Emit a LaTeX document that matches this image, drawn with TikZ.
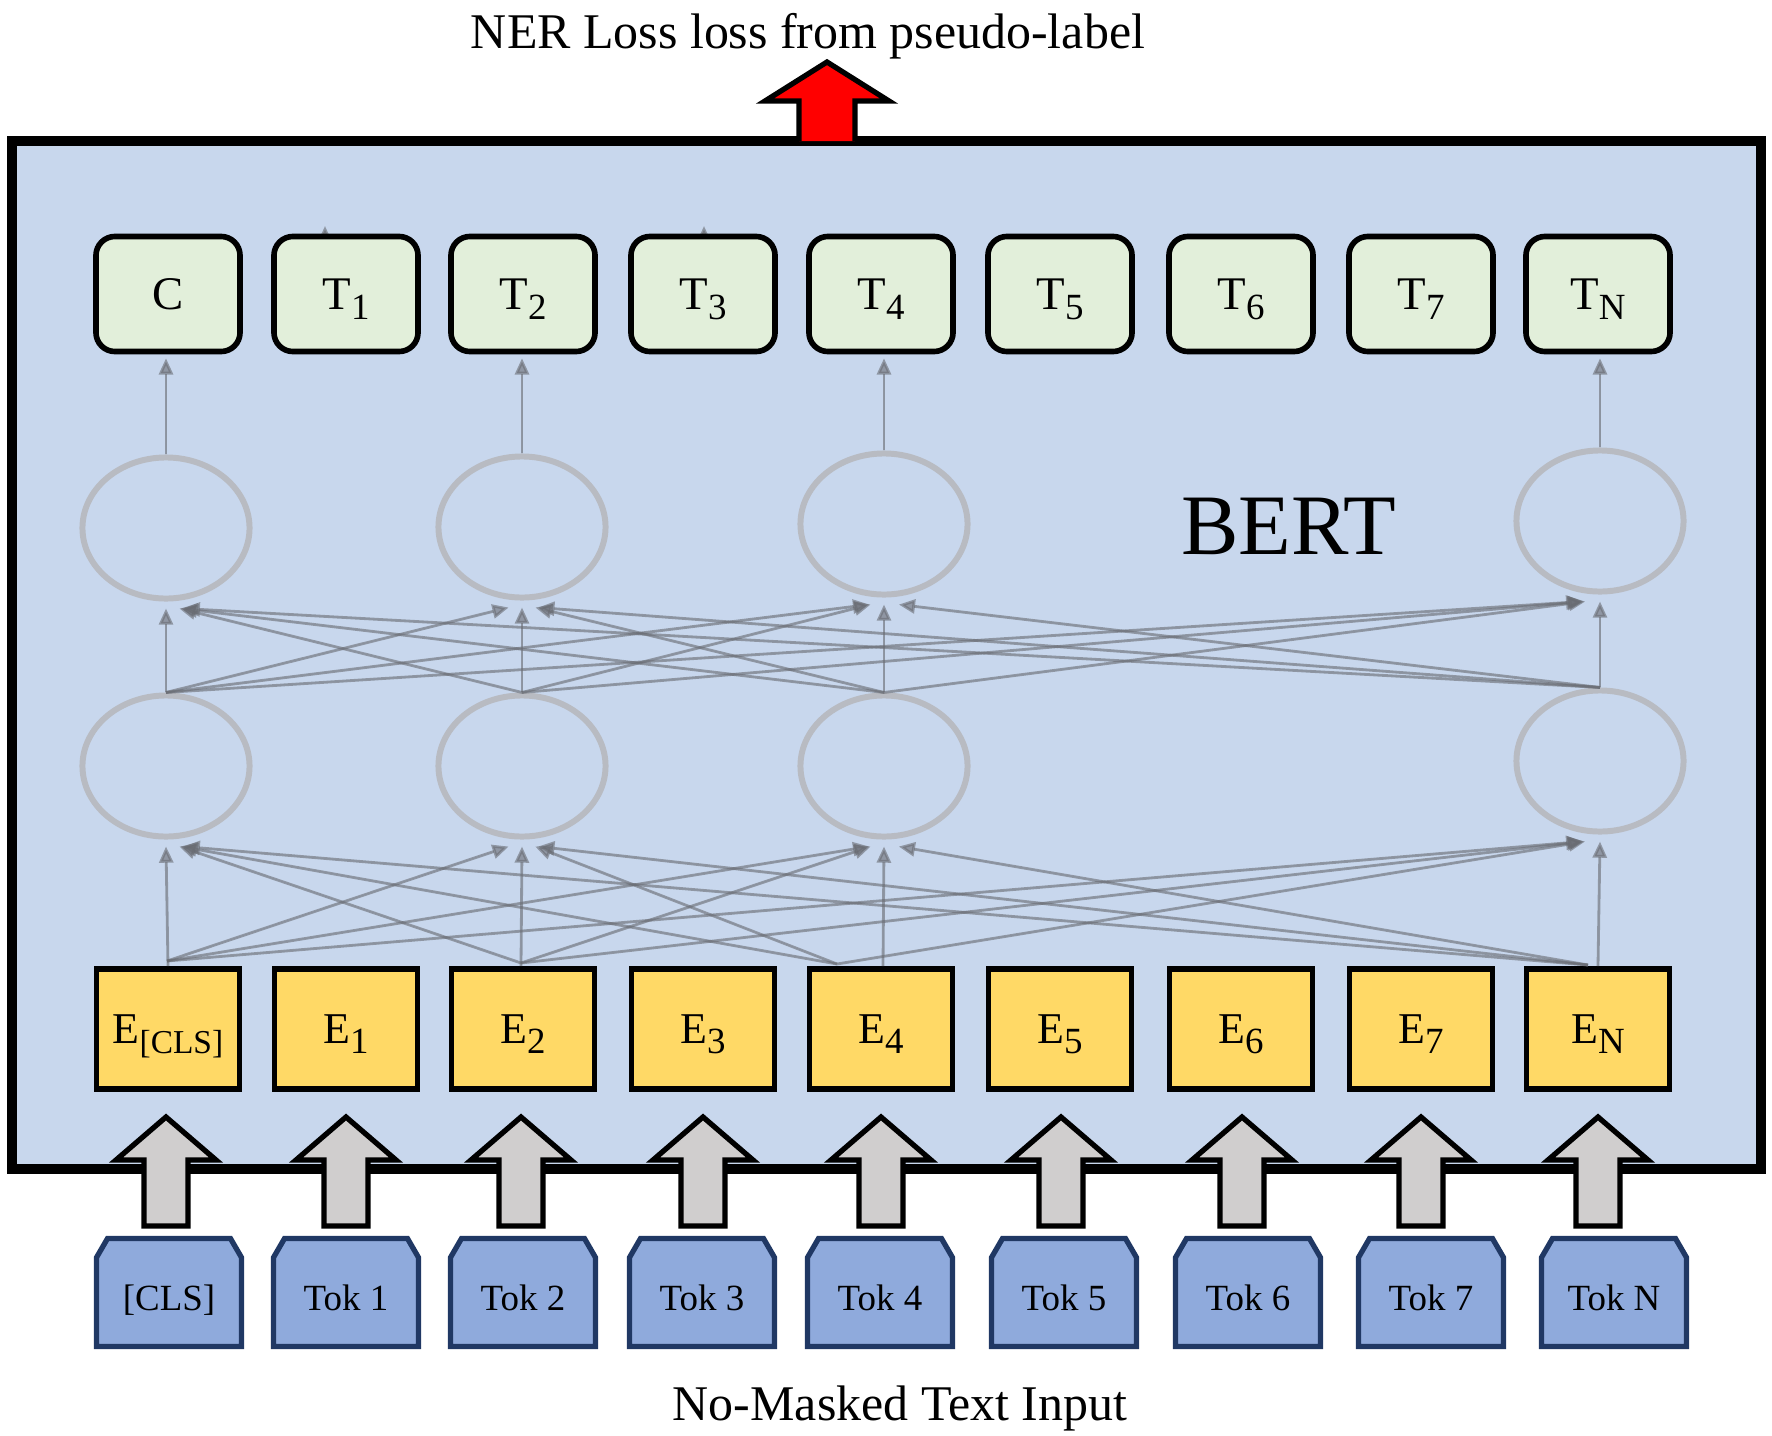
\documentclass[tikz,border=0pt]{standalone}
\usepackage{fontspec}
\setmainfont{Liberation Serif}
\usetikzlibrary{arrows.meta,shapes.geometric,calc}

\definecolor{bertbg}{RGB}{200,215,237}
\definecolor{outfill}{RGB}{226,239,218}
\definecolor{embfill}{RGB}{255,217,102}
\definecolor{tokfill}{RGB}{143,170,220}
\definecolor{tokedge}{RGB}{32,56,100}
\definecolor{liftfill}{RGB}{208,206,206}
\definecolor{linkgray}{RGB}{105,108,115}
\definecolor{cellgray}{RGB}{184,187,194}

\newcommand{\subidx}[2][10.5]{\raisebox{-2.7pt}{\fontsize{#1}{12}\selectfont #2}}

\begin{document}
\begin{tikzpicture}[x=0.01cm,y=-0.01cm,outbox/.style={draw,line width=1.6pt,fill=outfill,rounded corners=0.19cm,minimum width=1.44cm,minimum height=1.15cm,inner sep=0pt,font=\fontsize{13.3}{15}\selectfont,text height=9pt,text depth=0pt},embbox/.style={draw,line width=1.6pt,fill=embfill,minimum width=1.43cm,minimum height=1.2cm,inner sep=0pt,font=\fontsize{12.5}{15}\selectfont,text height=8.4pt,text depth=0pt},cell/.style={ellipse,draw=cellgray,line width=1.7pt,minimum width=1.67cm,minimum height=1.41cm,inner sep=0pt},link/.style={draw=linkgray,fill=linkgray,opacity=0.6,line width=0.8pt,-{Triangle[length=4.6pt,width=4pt]}},tokshape/.style={fill=tokfill,draw=tokedge,line width=1.5pt,line join=miter},toklabel/.style={anchor=base,font=\fontsize{10.5}{12}\selectfont},lift/.style={fill=liftfill,draw=black,line width=1.5pt,line join=miter},loss/.style={fill=red,draw=black,line width=1.5pt,line join=miter},caption/.style={anchor=base,font=\fontsize{14.2}{17}\selectfont}]
\useasboundingbox (0,0) rectangle (1772,1436);
\draw[fill=bertbg,line width=3.1pt] (12,141) rectangle (1761,1169);
\coordinate (pk1) at (325,290);
\coordinate (pk1tip) at (325,226);
\coordinate (pk3) at (704,290);
\coordinate (pk3tip) at (704,226);
\draw[link] (pk1) -- (pk1tip);
\draw[link] (pk3) -- (pk3tip);
\foreach \i/\x/\t in {0/168/C,1/346/T\subidx{1},2/523/T\subidx{2},3/703/T\subidx{3},4/881/T\subidx{4},5/1060/T\subidx{5},6/1241/T\subidx{6},7/1421/T\subidx{7},8/1598/T\subidx{N}}
  \node[outbox] (T\i) at (\x,294) {\t};
\foreach \i/\x/\t in {0/168/E\subidx[9.5]{[CLS]},1/346/E\subidx{1},2/523/E\subidx{2},3/703/E\subidx{3},4/881/E\subidx{4},5/1060/E\subidx{5},6/1241/E\subidx{6},7/1421/E\subidx{7},8/1598/E\subidx{N}}
  \node[embbox] (E\i) at (\x,1029) {\t};
\foreach \i/\x/\yu/\yl in {0/166/528/766,2/522/527/766,4/884/524/766,8/1600/521/761}{
  \node[cell] (up\i) at (\x,\yu) {};
  \node[cell] (lo\i) at (\x,\yl) {};
}
\coordinate (fa0) at (167,961);
\coordinate (fv0) at (168,966);
\coordinate (fa2) at (521,963);
\coordinate (fv2) at (521,966);
\coordinate (fa4) at (837,964);
\coordinate (fv4) at (883,966);
\coordinate (fa8) at (1588,965);
\coordinate (fv8) at (1598,966);
\foreach \s/\xs in {0/167,2/521,4/837,8/1588}{
  \foreach \t/\xt in {0/166,2/522,4/884,8/1600}{
    \pgfmathsetmacro{\dx}{12*(2*(\xs>\xt)-1)+0.004*(\xs-\xt)}
    \ifnum\s=\t\relax
      \draw[link] (fv\s) -- ($(lo\t.south)+(0,7)$);
    \else
      \draw[link] (fa\s) -- ($(lo\t.south)+(\dx,7)$);
    \fi
  }
}
\foreach \s/\xs in {0/166,2/522,4/884,8/1600}{
  \foreach \t/\xt in {0/166,2/522,4/884,8/1600}{
    \pgfmathsetmacro{\dx}{12*(2*(\xs>\xt)-1)+0.004*(\xs-\xt)}
    \ifnum\s=\t\relax
      \draw[link] (lo\s.north) -- ($(up\t.south)+(0,7)$);
    \else
      \draw[link] (lo\s.north) -- ($(up\t.south)+(\dx,7)$);
    \fi
  }
}
\foreach \i in {0,2,4,8}
  \draw[link] (up\i.north) -- ($(up\i.north |- T\i.south)+(0,4)$);
\foreach \x in {166,346,521,703,881,1061,1242,1421,1598}
  \filldraw[lift] (\x,1117) -- (\x+50,1160) -- (\x+22,1160) -- (\x+22,1226) -- (\x-22,1226) -- (\x-22,1160) -- (\x-50,1160) -- cycle;
\foreach \i/\x/\t in {0/169/[CLS],1/346/Tok 1,2/523/Tok 2,3/702/Tok 3,4/880/Tok 4,5/1064/Tok 5,6/1248/Tok 6,7/1431/Tok 7,8/1614/Tok N}{
  \filldraw[tokshape] (\x-72.5,1346.5) -- (\x-72.5,1257.5) -- (\x-61.5,1238.5) -- (\x+61.5,1238.5) -- (\x+72.5,1257.5) -- (\x+72.5,1346.5) -- cycle;
  \node[toklabel] (tok\i) at (\x,1310) {\t};
}
\filldraw[loss] (855,141) -- (855,101) -- (889,101) -- (827,62) -- (765,101) -- (799,101) -- (799,141);
\node[caption] (losstext) at (808,48) {NER Loss loss from pseudo-label};
\node[caption] (inputtext) at (900,1420) {No-Masked Text Input};
\node[anchor=base,font=\fontsize{24.5}{29}\selectfont] (bert) at (1289,554) {BERT};
\end{tikzpicture}
\end{document}
